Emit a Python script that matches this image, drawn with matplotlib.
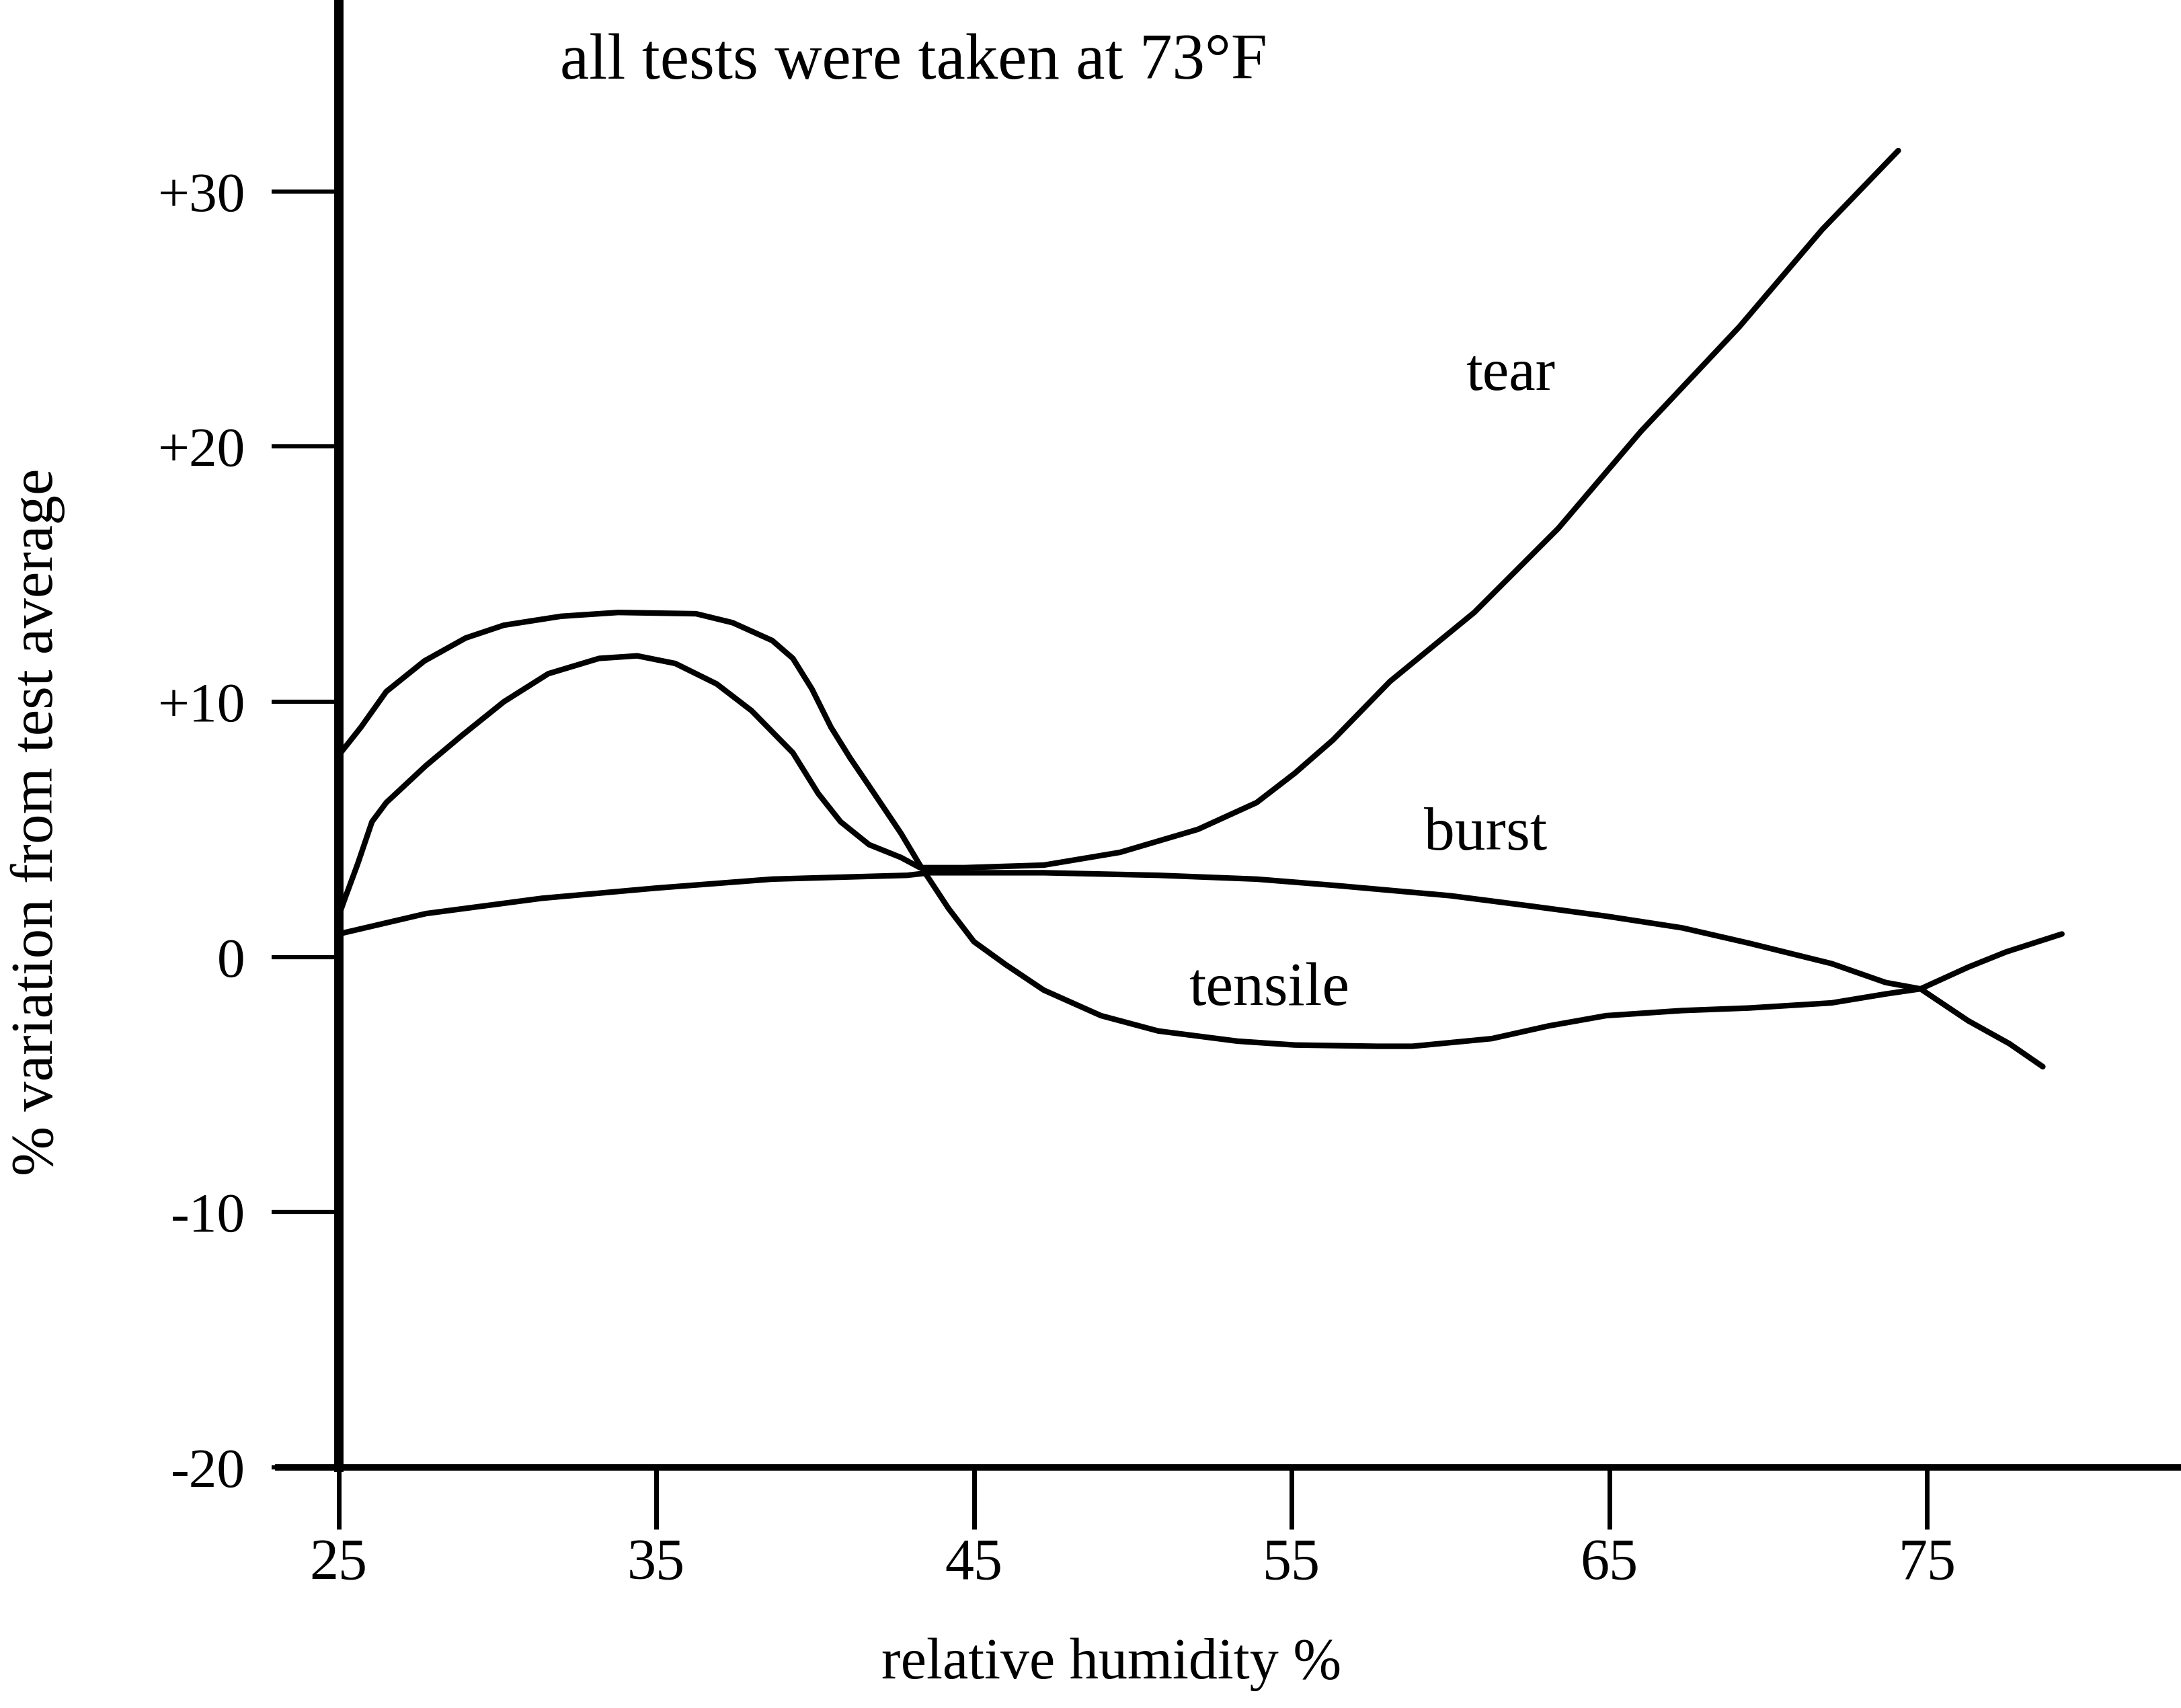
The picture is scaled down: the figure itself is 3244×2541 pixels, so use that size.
import matplotlib
matplotlib.use("Agg")
import matplotlib.pyplot as plt
from matplotlib.ticker import FixedLocator, FixedFormatter

plt.rcParams['font.family'] = ['Liberation Serif', 'DejaVu Serif']

# values (relative humidity %, % variation)
tear_rh = [25.0, 25.2, 25.6, 26.05, 26.5, 27.75, 28.9, 30.2, 31.6, 33.2,
           34.4, 35.6, 36.9, 38.0, 39.3, 40.1, 40.8, 41.7, 42.7, 43.3,
           44.7, 47.2, 49.6, 52.05, 53.9, 55.1, 56.3, 58.1, 60.75, 63.4,
           66.0, 69.1, 71.7, 74.1]
tear = [1.6, 2.3, 3.65, 5.3, 6.05, 7.5, 8.7, 10.0, 11.1, 11.7,
        11.8, 11.5, 10.7, 9.65, 8.0, 6.4, 5.3, 4.4, 3.9, 3.5,
        3.5, 3.6, 4.1, 5.0, 6.05, 7.2, 8.5, 10.8, 13.5, 16.8,
        20.6, 24.7, 28.5, 31.6]

tensile_rh = [25.0, 25.7, 26.5, 27.7, 29.0, 30.2, 32.0, 33.8, 36.25, 37.4,
              38.65, 39.3, 39.9, 40.5, 41.1, 41.7, 42.7, 43.3, 44.2, 45.0,
              46.0, 47.2, 49.0, 50.8, 53.3, 55.1, 57.7, 58.8, 61.3, 63.1,
              64.9, 67.3, 69.4, 72.0, 73.7, 74.8, 76.3, 77.5, 79.25]
tensile = [7.9, 9.0, 10.4, 11.6, 12.5, 13.0, 13.35, 13.5, 13.45, 13.1,
           12.4, 11.7, 10.5, 9.0, 7.8, 6.7, 4.85, 3.6, 1.9, 0.6,
           -0.3, -1.3, -2.3, -2.9, -3.3, -3.45, -3.5, -3.5, -3.2, -2.7,
           -2.3, -2.1, -2.0, -1.8, -1.45, -1.25, -0.4, 0.2, 0.9]

burst_rh = [25.0, 27.75, 31.4, 35.0, 38.65, 42.9, 43.6, 47.2, 50.8, 53.9,
            56.4, 60.0, 62.5, 64.9, 67.3, 69.4, 72.0, 73.7, 74.8, 76.3,
            77.6, 78.65]
burst = [0.9, 1.7, 2.3, 2.7, 3.05, 3.2, 3.3, 3.3, 3.2, 3.05,
         2.8, 2.4, 2.0, 1.6, 1.14, 0.54, -0.26, -1.0, -1.25, -2.5,
         -3.4, -4.3]

x_ticks = [25, 35, 45, 55, 65, 75]
y_ticks = [30, 20, 10, 0, -10, -20]
y_tick_labels = ['+30', '+20', '+10', '0', '-10', '-20']

fig = plt.figure(figsize=(32.44, 25.41), dpi=100)
ax = fig.add_axes([0.1276, 0.1409, 0.8724, 0.8591])

line_kw = dict(color='black', lw=6, solid_joinstyle='round', solid_capstyle='round')
ax.plot(tear_rh, tear, **line_kw)
ax.plot(tensile_rh, tensile, **line_kw)
ax.plot(burst_rh, burst, **line_kw)

ax.set_xlim(23.1, 83.0)
ax.set_ylim(-20, 37.5)

ax.spines['top'].set_visible(False)
ax.spines['right'].set_visible(False)
ax.spines['left'].set_position(('data', 25))
ax.spines['left'].set_linewidth(10)
ax.spines['bottom'].set_linewidth(7)

ax.xaxis.set_major_locator(FixedLocator(x_ticks))
ax.yaxis.set_major_locator(FixedLocator(y_ticks))
ax.yaxis.set_major_formatter(FixedFormatter(y_tick_labels))
ax.tick_params(axis='x', direction='out', length=66, width=5, pad=10, labelsize=62)
ax.tick_params(axis='y', direction='out', length=72, width=4.5, pad=28, labelsize=60)

ax.set_xlabel('relative humidity %', fontsize=62)
ax.xaxis.set_label_coords(0.438, -0.116)
ax.set_ylabel('% variation from test average', fontsize=64)
ax.yaxis.set_label_coords(-0.112, 0.44)

ax.text(61.9, 22.8, 'tear', fontsize=64, ha='center', va='center')
ax.text(61.1, 4.8, 'burst', fontsize=66, ha='center', va='center')
ax.text(54.3, -1.3, 'tensile', fontsize=66, ha='center', va='center')

fig.text(0.419, 0.963, 'all tests were taken at 73°F', fontsize=70, ha='center', va='center')

fig.savefig('out.png', dpi=100)
